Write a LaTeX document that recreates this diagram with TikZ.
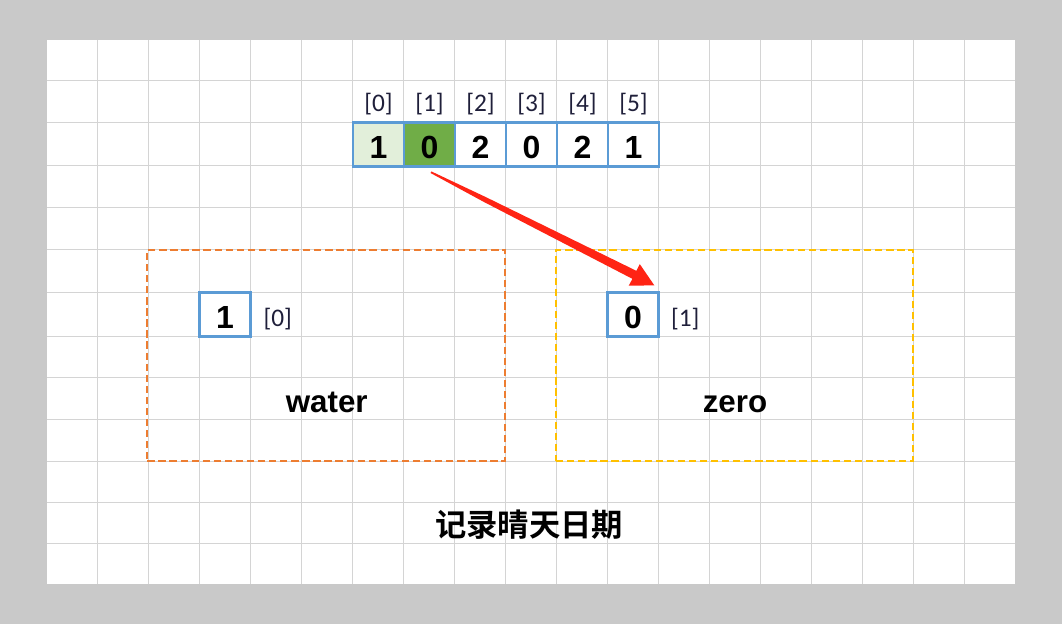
\documentclass[tikz,border=0pt]{standalone}
\usepackage{fontspec}
\setmainfont{Liberation Sans}
\newfontfamily\idxfont{Carlito}
\newfontfamily\cjk{Noto Sans CJK SC}[BoldFont={Noto Sans CJK SC Bold}]
\usetikzlibrary{calc}
\definecolor{bg}{HTML}{C9C9C9}
\definecolor{gridc}{HTML}{D4D4D4}
\definecolor{cellb}{HTML}{5B9BD5}
\definecolor{lgreen}{HTML}{E2EFDA}
\definecolor{dgreen}{HTML}{70AD47}
\definecolor{orangeb}{HTML}{ED7D31}
\definecolor{yellowb}{HTML}{FFC000}
\definecolor{arrowred}{HTML}{FF2414}
\definecolor{idxc}{HTML}{1F1F3A}
\begin{document}
\begin{tikzpicture}[x=0.75pt,y=-0.75pt,
  cell/.style={draw=cellb, line width=2pt, minimum width=38.25pt, minimum height=33pt, inner sep=0pt,
    text height=20.8pt, text depth=0pt, font=\fontsize{24}{24}\selectfont\bfseries},
  idx/.style={font=\idxfont\fontsize{19}{19}\selectfont, text=idxc, inner sep=0pt},
  lbl/.style={font=\fontsize{23.5}{23.5}\selectfont\bfseries, inner sep=0pt, anchor=base},
  groupbox/.style={line width=1.5pt, dash pattern=on 5.5pt off 2.8pt, inner sep=0pt}]
\useasboundingbox (0,0) rectangle (1062,624);
\fill[bg] (0,0) rectangle (1062,624);
\fill[white] (47,40) rectangle (1015,584);
\foreach \x in {97.5,148.5,...,965} \draw[gridc, line width=0.9pt] (\x,40) -- (\x,584);
\foreach \y in {80.5,122.5,165.5,207.5,249.5,292.5,336.5,377.5,419.5,461.5,502.5,543.5} \draw[gridc, line width=0.9pt] (47,\y) -- (1015,\y);
% array
\node[cell, fill=lgreen] (c0) at (378.5,144.4) {1};
\node[cell, fill=dgreen] (c1) at (429.5,144.4) {0};
\node[cell] (c2) at (480.5,144.4) {2};
\node[cell] (c3) at (531.5,144.4) {0};
\node[cell] (c4) at (582.5,144.4) {2};
\node[cell] (c5) at (633.5,144.4) {1};
\foreach \i in {0,...,5} \node[idx, anchor=base] (i\i) at ($(c\i.center)+(0,-32.4)$) {[\i]};
% group boxes
\node[groupbox, draw=orangeb, minimum width=268.5pt, minimum height=158pt] (waterbox) at (326.3,355.35) {};
\node[groupbox, draw=yellowb, minimum width=267.5pt, minimum height=158pt] (zerobox) at (734.35,355.35) {};
\node[cell] (w0) at (225,314.5) {1};
\node[idx, anchor=base west] (wi) at ($(w0.east)+(11.5,12)$) {[0]};
\node[cell] (z0) at (633,314.5) {0};
\node[idx, anchor=base west] (zi) at ($(z0.east)+(11,12)$) {[1]};
\node[lbl] (wl) at (326.7,412.5) {water};
\node[lbl] (zl) at (735,412) {zero};
\node[font=\cjk\bfseries\fontsize{23.5}{23.5}\selectfont, inner sep=0pt] (title) at (529,525) {记录晴天日期};
% arrow (tapered red arrow from cell [1] to the zero box)
\coordinate (atail) at ($(c1.south)+(1.5,4.5)$);
\fill[arrowred] ($(atail)+(0.41,-0.8)$) -- ($(atail)+(54.7,24.8)$) -- ($(atail)+(205.4,98.6)$)
  -- ($(atail)+(208.8,91.9)$) -- ($(atail)+(223.3,113.1)$) coordinate (atip)
  -- ($(atail)+(197.7,113.5)$) -- ($(atail)+(201.4,106.6)$) -- ($(atail)+(52.3,29.4)$)
  -- ($(atail)+(-0.41,0.8)$) -- cycle;
\end{tikzpicture}
\end{document}
